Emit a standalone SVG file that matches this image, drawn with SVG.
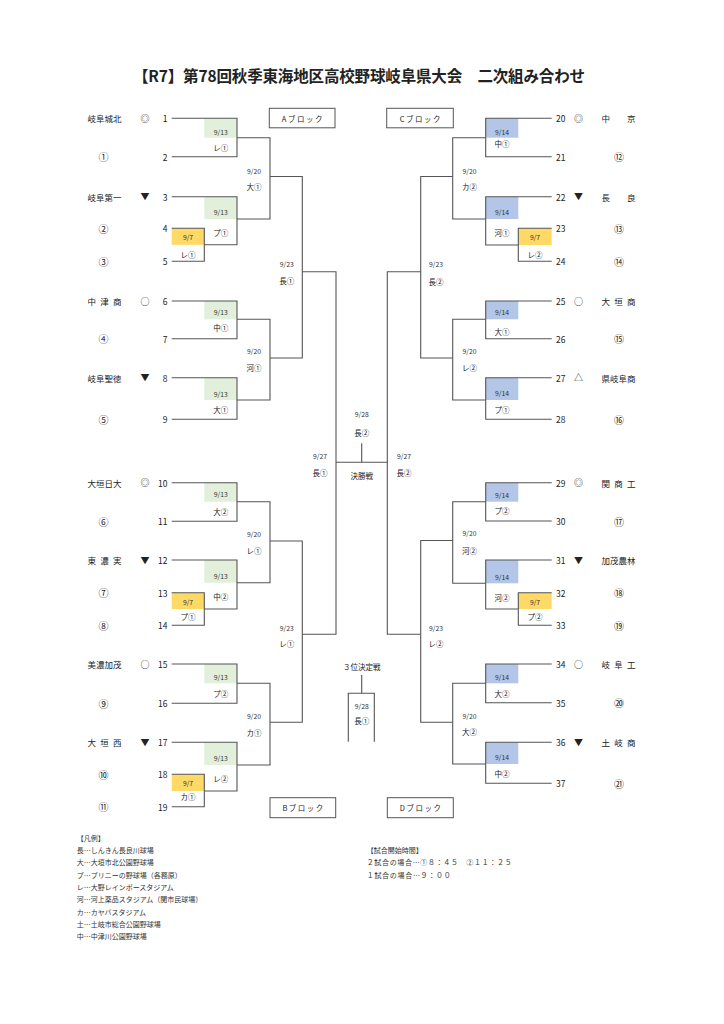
<svg xmlns="http://www.w3.org/2000/svg" width="724" height="1024" viewBox="0 0 724 1024">
<style>
text{font-family:"Noto Sans CJK JP","Noto Sans CJK SC",sans-serif;fill:#222;dominant-baseline:central}
.ln{fill:none;stroke:#555;stroke-width:1.1}
.g{fill:#e2efda}.b{fill:#b4c6e7}.y{fill:#ffd966}
.d{font-size:6.8px;text-anchor:middle;fill:#333}
.v{font-size:7.5px;text-anchor:middle}
.n{font-size:8.5px}
.nl{font-size:8.5px;text-anchor:end}
.mk{font-size:9px;text-anchor:middle}
.nm{font-size:8.5px}
.c{font-size:10px;text-anchor:middle}
.blk{fill:#fff;stroke:#555;stroke-width:1}
.bt{font-size:7.5px;text-anchor:middle;letter-spacing:1.5px}
.lg{font-size:7px;fill:#333}
</style>
<rect width="724" height="1024" fill="#fff"/>
<g id="title"><text x="359" y="75" font-size="15.5" font-weight="bold" text-anchor="middle" textLength="452" lengthAdjust="spacing">【R7】第78回秋季東海地区高校野球岐阜県大会　二次組み合わせ</text></g>

<g id="matches">
<g id="m1"><rect class="g" x="204.3" y="118.3" width="32.7" height="19.4"/><text class="d" x="220.7" y="131.7">9/13</text><text class="v" x="220.7" y="147.7">レ①</text></g>
<g id="m2"><rect class="y" x="171.7" y="228.3" width="32.6" height="16.5"/><text class="d" x="188" y="236.7">9/7</text><text class="v" x="188" y="254">レ①</text></g>
<g id="m3"><rect class="g" x="204.3" y="196.7" width="32.7" height="22.3"/><text class="d" x="220.7" y="211.7">9/13</text><text class="v" x="220.7" y="232.3">プ①</text></g>
<g id="m4"><rect class="g" x="204.3" y="301" width="32.7" height="18.3"/><text class="d" x="220.7" y="312.3">9/13</text><text class="v" x="220.7" y="327.7">中①</text></g>
<g id="m5"><rect class="g" x="204.3" y="377.7" width="32.7" height="22.3"/><text class="d" x="220.7" y="393.5">9/13</text><text class="v" x="220.7" y="409.3">大①</text></g>
<g id="m6"><text class="d" x="254" y="170.7">9/20</text><text class="v" x="254" y="186">大①</text></g>
<g id="m7"><text class="d" x="254" y="350.7">9/20</text><text class="v" x="254" y="367.7">河①</text></g>
<g id="m8"><text class="d" x="286.7" y="264">9/23</text><text class="v" x="286.7" y="280.5">長①</text></g>

<g id="m9"><rect class="g" x="204.3" y="482.7" width="32.7" height="19"/><text class="d" x="220.7" y="494.3">9/13</text><text class="v" x="220.7" y="511">大②</text></g>
<g id="m10"><rect class="y" x="171.7" y="592.7" width="32.6" height="16.3"/><text class="d" x="188" y="601.7">9/7</text><text class="v" x="188" y="616.7">プ①</text></g>
<g id="m11"><rect class="g" x="204.3" y="560" width="32.7" height="22.7"/><text class="d" x="220.7" y="576">9/13</text><text class="v" x="220.7" y="596.7">中②</text></g>
<g id="m12"><rect class="g" x="204.3" y="664" width="32.7" height="19.3"/><text class="d" x="220.7" y="676.7">9/13</text><text class="v" x="220.7" y="693.3">プ②</text></g>
<g id="m13"><rect class="y" x="171.7" y="774.3" width="32.6" height="16.7"/><text class="d" x="188" y="783.3">9/7</text><text class="v" x="188" y="796.7">カ①</text></g>
<g id="m14"><rect class="g" x="204.3" y="742.3" width="32.7" height="22.7"/><text class="d" x="220.7" y="758.3">9/13</text><text class="v" x="220.7" y="778.3">レ②</text></g>
<g id="m15"><text class="d" x="254" y="534">9/20</text><text class="v" x="254" y="550">レ①</text></g>
<g id="m16"><text class="d" x="254" y="715.7">9/20</text><text class="v" x="254" y="732.7">カ①</text></g>
<g id="m17"><text class="d" x="286.7" y="628.3">9/23</text><text class="v" x="286.7" y="643.3">レ①</text></g>

<g id="m18"><rect class="b" x="485.7" y="118.3" width="32.6" height="19.4"/><text class="d" x="502" y="132.3">9/14</text><text class="v" x="502" y="143.3">中①</text></g>
<g id="m19"><rect class="y" x="518.3" y="228.3" width="33.4" height="16.7"/><text class="d" x="535" y="237.3">9/7</text><text class="v" x="535" y="254.3">レ②</text></g>
<g id="m20"><rect class="b" x="485.7" y="196.7" width="32.6" height="22.3"/><text class="d" x="502" y="211.7">9/14</text><text class="v" x="502" y="232.3">河①</text></g>
<g id="m21"><rect class="b" x="485.7" y="301" width="32.6" height="18.3"/><text class="d" x="502" y="312.3">9/14</text><text class="v" x="502" y="331">大①</text></g>
<g id="m22"><rect class="b" x="485.7" y="377.7" width="32.6" height="22.3"/><text class="d" x="502" y="393.3">9/14</text><text class="v" x="502" y="409.3">プ①</text></g>
<g id="m23"><text class="d" x="469.5" y="170.7">9/20</text><text class="v" x="469.5" y="186">カ②</text></g>
<g id="m24"><text class="d" x="469.5" y="350.7">9/20</text><text class="v" x="469.5" y="367.7">レ②</text></g>
<g id="m25"><text class="d" x="436" y="264">9/23</text><text class="v" x="436" y="281">長②</text></g>

<g id="m26"><rect class="b" x="485.7" y="482.7" width="32.6" height="19"/><text class="d" x="502" y="495">9/14</text><text class="v" x="502" y="510.7">プ②</text></g>
<g id="m27"><rect class="y" x="518.3" y="592.7" width="33.4" height="16.3"/><text class="d" x="535" y="601.7">9/7</text><text class="v" x="535" y="616.7">プ②</text></g>
<g id="m28"><rect class="b" x="485.7" y="560" width="32.6" height="23.3"/><text class="d" x="502" y="576.7">9/14</text><text class="v" x="502" y="597.3">河②</text></g>
<g id="m29"><rect class="b" x="485.7" y="664" width="32.6" height="19.3"/><text class="d" x="502" y="676.7">9/14</text><text class="v" x="502" y="693.3">大②</text></g>
<g id="m30"><rect class="b" x="485.7" y="742.3" width="32.6" height="21.7"/><text class="d" x="502" y="756.7">9/14</text><text class="v" x="502" y="773.3">中②</text></g>
<g id="m31"><text class="d" x="469.5" y="533.3">9/20</text><text class="v" x="469.5" y="550">河②</text></g>
<g id="m32"><text class="d" x="469.5" y="715.7">9/20</text><text class="v" x="469.5" y="731.7">大②</text></g>
<g id="m33"><text class="d" x="436" y="628.3">9/23</text><text class="v" x="436" y="643.3">レ②</text></g>

<g id="semi-left"><text class="d" x="320" y="456">9/27</text><text class="v" x="320" y="472.7">長①</text></g>
<g id="semi-right"><text class="d" x="404" y="456">9/27</text><text class="v" x="404" y="472.7">長②</text></g>
<g id="final"><text class="d" x="361.7" y="414">9/28</text><text class="v" x="361.7" y="432">長②</text><text class="v" x="361.7" y="475" fill="#444">決勝戦</text></g>
<g id="third"><text class="v" x="361.7" y="666.7" fill="#444">３位決定戦</text><text class="d" x="361.7" y="705.5">9/28</text><text class="v" x="361.7" y="720">長①</text></g>
</g>

<g id="connectors" class="ln">
<path d="M171.7,118.3H237V156.7H171.7"/>
<path d="M171.7,228.3H204.3V261.3H171.7"/>
<path d="M171.7,196.7H237V244.8H204.3"/>
<path d="M237,137.7H270V219H237"/>
<path d="M171.7,301H237V338.7H171.7"/>
<path d="M171.7,377.7H237V419.3H171.7"/>
<path d="M237,319.3H270V400H237"/>
<path d="M270,176.5H302.3V358H270"/>
<path d="M302.3,271.7H336V634.3H302.3"/>
<path d="M171.7,482.7H237V521.3H171.7"/>
<path d="M171.7,592.7H204.3V625.3H171.7"/>
<path d="M171.7,560H237V609H204.3"/>
<path d="M237,501.7H270V582.7H237"/>
<path d="M171.7,664H237V703.3H171.7"/>
<path d="M171.7,774.3H204.3V806.7H171.7"/>
<path d="M171.7,742.3H237V791H204.3"/>
<path d="M237,683.3H270V765H237"/>
<path d="M270,541H302.3V722.3H270"/>

<path d="M551.7,118.3H485.7V156.7H551.7"/>
<path d="M551.7,228.3H518.3V261.3H551.7"/>
<path d="M551.7,196.7H485.7V245H518.3"/>
<path d="M485.7,137.7H452.7V219H485.7"/>
<path d="M551.7,301H485.7V338.7H551.7"/>
<path d="M551.7,377.7H485.7V419.3H551.7"/>
<path d="M485.7,319.3H452.7V400H485.7"/>
<path d="M452.7,176.5H420.7V358H452.7"/>
<path d="M420.7,271.7H387.3V634.3H420.7"/>
<path d="M551.7,482.7H485.7V521H551.7"/>
<path d="M551.7,592.7H518.3V625.3H551.7"/>
<path d="M551.7,560H485.7V609H518.3"/>
<path d="M485.7,501.7H452.7V583.3H485.7"/>
<path d="M551.7,664H485.7V702.7H551.7"/>
<path d="M551.7,742.3H485.7V783.3H551.7"/>
<path d="M485.7,683.3H452.7V764H485.7"/>
<path d="M452.7,540.5H420.7V722.3H452.7"/>

<path d="M336,462.3H387.3"/>
<path d="M361.7,443.3V462.3"/>
<path d="M361.7,675V693.3"/>
<path d="M348.3,741.7V693.3H374.3V741.7"/>
</g>

<g id="entries">
<g id="e1"><text class="nm" x="87.5" y="118.3" textLength="34" lengthAdjust="spacing">岐阜城北</text><text class="mk" x="145" y="118.3">◎</text><text class="nl" x="167.5" y="118.3">1</text></g>
<g id="e2"><text class="c" x="103.5" y="156.7">①</text><text class="nl" x="167.5" y="156.7">2</text></g>
<g id="e3"><text class="nm" x="87.5" y="196.7" textLength="34" lengthAdjust="spacing">岐阜第一</text><text class="mk" x="145" y="196.7">▼</text><text class="nl" x="167.5" y="196.7">3</text></g>
<g id="e4"><text class="c" x="103.5" y="228.3">②</text><text class="nl" x="167.5" y="228.3">4</text></g>
<g id="e5"><text class="c" x="103.5" y="261.3">③</text><text class="nl" x="167.5" y="261.3">5</text></g>
<g id="e6"><text class="nm" x="87.5" y="301" textLength="34" lengthAdjust="spacing">中津商</text><text class="mk" x="145" y="301">○</text><text class="nl" x="167.5" y="301">6</text></g>
<g id="e7"><text class="c" x="103.5" y="338.7">④</text><text class="nl" x="167.5" y="338.7">7</text></g>
<g id="e8"><text class="nm" x="87.5" y="377.7" textLength="34" lengthAdjust="spacing">岐阜聖徳</text><text class="mk" x="145" y="377.7">▼</text><text class="nl" x="167.5" y="377.7">8</text></g>
<g id="e9"><text class="c" x="103.5" y="419.3">⑤</text><text class="nl" x="167.5" y="419.3">9</text></g>
<g id="e10"><text class="nm" x="87.5" y="482.7" textLength="34" lengthAdjust="spacing">大垣日大</text><text class="mk" x="145" y="482.7">◎</text><text class="nl" x="167.5" y="482.7">10</text></g>
<g id="e11"><text class="c" x="103.5" y="521.3">⑥</text><text class="nl" x="167.5" y="521.3">11</text></g>
<g id="e12"><text class="nm" x="87.5" y="560" textLength="34" lengthAdjust="spacing">東濃実</text><text class="mk" x="145" y="560">▼</text><text class="nl" x="167.5" y="560">12</text></g>
<g id="e13"><text class="c" x="103.5" y="592.7">⑦</text><text class="nl" x="167.5" y="592.7">13</text></g>
<g id="e14"><text class="c" x="103.5" y="625.3">⑧</text><text class="nl" x="167.5" y="625.3">14</text></g>
<g id="e15"><text class="nm" x="87.5" y="664" textLength="34" lengthAdjust="spacing">美濃加茂</text><text class="mk" x="145" y="664">○</text><text class="nl" x="167.5" y="664">15</text></g>
<g id="e16"><text class="c" x="103.5" y="703.3">⑨</text><text class="nl" x="167.5" y="703.3">16</text></g>
<g id="e17"><text class="nm" x="87.5" y="742.3" textLength="34" lengthAdjust="spacing">大垣西</text><text class="mk" x="145" y="742.3">▼</text><text class="nl" x="167.5" y="742.3">17</text></g>
<g id="e18"><text class="c" x="103.5" y="774.3">⑩</text><text class="nl" x="167.5" y="774.3">18</text></g>
<g id="e19"><text class="c" x="103.5" y="806.7">⑪</text><text class="nl" x="167.5" y="806.7">19</text></g>

<g id="e20"><text class="n" x="556" y="118.3">20</text><text class="mk" x="578.5" y="118.3">◎</text><text class="nm" x="601.5" y="118.3" textLength="34" lengthAdjust="spacing">中京</text></g>
<g id="e21"><text class="n" x="556" y="156.7">21</text><text class="c" x="619" y="156.7">⑫</text></g>
<g id="e22"><text class="n" x="556" y="196.7">22</text><text class="mk" x="578.5" y="196.7">▼</text><text class="nm" x="601.5" y="196.7" textLength="34" lengthAdjust="spacing">長良</text></g>
<g id="e23"><text class="n" x="556" y="228.3">23</text><text class="c" x="619" y="228.3">⑬</text></g>
<g id="e24"><text class="n" x="556" y="261.3">24</text><text class="c" x="619" y="261.3">⑭</text></g>
<g id="e25"><text class="n" x="556" y="301">25</text><text class="mk" x="578.5" y="301">○</text><text class="nm" x="601.5" y="301" textLength="34" lengthAdjust="spacing">大垣商</text></g>
<g id="e26"><text class="n" x="556" y="338.7">26</text><text class="c" x="619" y="338.7">⑮</text></g>
<g id="e27"><text class="n" x="556" y="377.7">27</text><text class="mk" x="578.5" y="377.7">△</text><text class="nm" x="601.5" y="377.7" textLength="34" lengthAdjust="spacing">県岐阜商</text></g>
<g id="e28"><text class="n" x="556" y="419.3">28</text><text class="c" x="619" y="419.3">⑯</text></g>
<g id="e29"><text class="n" x="556" y="482.7">29</text><text class="mk" x="578.5" y="482.7">◎</text><text class="nm" x="601.5" y="482.7" textLength="34" lengthAdjust="spacing">関商工</text></g>
<g id="e30"><text class="n" x="556" y="521">30</text><text class="c" x="619" y="521">⑰</text></g>
<g id="e31"><text class="n" x="556" y="560">31</text><text class="mk" x="578.5" y="560">▼</text><text class="nm" x="601.5" y="560" textLength="34" lengthAdjust="spacing">加茂農林</text></g>
<g id="e32"><text class="n" x="556" y="592.7">32</text><text class="c" x="619" y="592.7">⑱</text></g>
<g id="e33"><text class="n" x="556" y="625.3">33</text><text class="c" x="619" y="625.3">⑲</text></g>
<g id="e34"><text class="n" x="556" y="664">34</text><text class="mk" x="578.5" y="664">○</text><text class="nm" x="601.5" y="664" textLength="34" lengthAdjust="spacing">岐阜工</text></g>
<g id="e35"><text class="n" x="556" y="702.7">35</text><text class="c" x="619" y="702.7">⑳</text></g>
<g id="e36"><text class="n" x="556" y="742.3">36</text><text class="mk" x="578.5" y="742.3">▼</text><text class="nm" x="601.5" y="742.3" textLength="34" lengthAdjust="spacing">土岐商</text></g>
<g id="e37"><text class="n" x="556" y="783.3">37</text><text class="c" x="619" y="783.3">㉑</text></g>
</g>

<g id="blocks">
<g id="blockA"><rect class="blk" x="269.3" y="108.3" width="65.7" height="19.5"/><text class="bt" x="302.9" y="118">Aブロック</text></g>
<g id="blockC"><rect class="blk" x="386.7" y="108.3" width="66.6" height="19.5"/><text class="bt" x="420.8" y="118">Cブロック</text></g>
<g id="blockB"><rect class="blk" x="270" y="797.7" width="65.7" height="20"/><text class="bt" x="303.6" y="807.7">Bブロック</text></g>
<g id="blockD"><rect class="blk" x="387.3" y="797.7" width="66" height="20"/><text class="bt" x="421.1" y="807.7">Dブロック</text></g>
</g>

<g id="legend">
<text class="lg" x="76.7" y="837.7">【凡例】</text>
<text class="lg" x="76.7" y="850">長…しんきん長良川球場</text>
<text class="lg" x="76.7" y="862.3">大…大垣市北公園野球場</text>
<text class="lg" x="76.7" y="874.6">プ…プリニーの野球場（各務原）</text>
<text class="lg" x="76.7" y="886.9">レ…大野レインボースタジアム</text>
<text class="lg" x="76.7" y="899.2">河…河上薬品スタジアム（関市民球場）</text>
<text class="lg" x="76.7" y="911.5">カ…カヤバスタジアム</text>
<text class="lg" x="76.7" y="923.8">土…土岐市総合公園野球場</text>
<text class="lg" x="76.7" y="936">中…中津川公園野球場</text>
</g>
<g id="times">
<text class="lg" x="366.7" y="850">【試合開始時間】</text>
<text class="lg" x="366.7" y="862.3" textLength="145" lengthAdjust="spacing">２試合の場合…①８：４５　②１１：２５</text>
<text class="lg" x="366.7" y="874.6" textLength="84" lengthAdjust="spacing">１試合の場合…９：００</text>
</g>
</svg>
